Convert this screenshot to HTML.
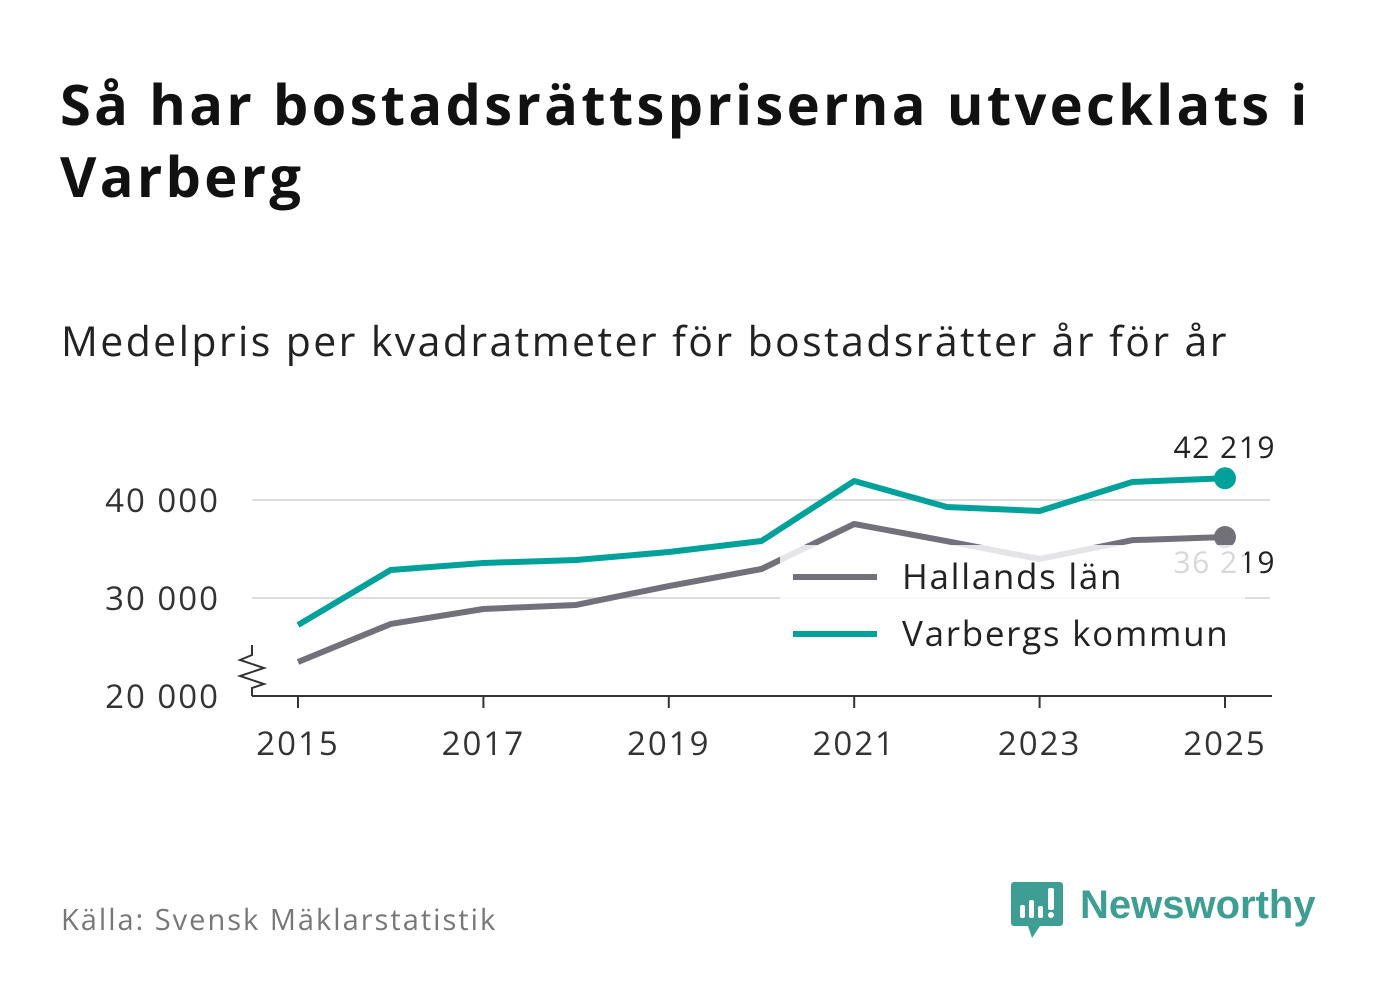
<!DOCTYPE html>
<html><head><meta charset="utf-8"><style>
body{margin:0;width:1382px;height:999px;background:#fff;font-family:"Open Sans","DejaVu Sans","Liberation Sans",sans-serif;position:relative;overflow:hidden}
#title{position:absolute;left:60px;top:68px;font-size:56px;font-weight:bold;line-height:72px;color:#111;width:1320px;letter-spacing:3.3px}
#subtitle{position:absolute;left:61px;top:313px;font-size:41px;color:#222;letter-spacing:2.4px}
#source{position:absolute;left:61px;top:900px;font-size:29px;color:#77777a;letter-spacing:2px}
</style></head><body>
<div id="title">Så har bostadsrättspriserna utvecklats i Varberg</div>
<div id="subtitle">Medelpris per kvadratmeter för bostadsrätter år för år</div>
<div id="source">Källa: Svensk Mäklarstatistik</div>
<svg id="logo" style="position:absolute;left:1000px;top:870px" width="330" height="80">
<path d="M14 12 h46 a3 3 0 0 1 3 3 v38 a3 3 0 0 1 -3 3 h-20 l-8 12 l-4 -12 h-14 a3 3 0 0 1 -3 -3 v-38 a3 3 0 0 1 3 -3z" fill="#3e9e94"/>
<rect x="20" y="35" width="5" height="13" rx="2" fill="#fff"/><rect x="29" y="30" width="5" height="18" rx="2" fill="#fff"/><rect x="38" y="36" width="5" height="12" rx="2" fill="#fff"/><rect x="48" y="18" width="6" height="22" rx="2" fill="#fff"/><circle cx="51" cy="45" r="3" fill="#fff"/>
<text x="80" y="48" font-size="40" font-weight="bold" fill="#3e9e94" font-family="Liberation Sans, sans-serif">Newsworthy</text>
</svg>
<svg id="chart" style="position:absolute;left:0;top:0" width="1382" height="999"></svg>
<script>
const years=[2015,2016,2017,2018,2019,2020,2021,2022,2023,2024,2025];
const halland=[23470,27350,28880,29290,31220,32960,37550,35800,33980,35900,36219];
const varberg=[27240,32860,33570,33880,34690,35820,41940,39290,38880,41840,42219];
const yTicks=[20000,30000,40000];
const yTickLabels=["20 000","30 000","40 000"];
const xTicks=[2015,2017,2019,2021,2023,2025];
const NS="http://www.w3.org/2000/svg";
const svg=document.getElementById('chart');
const x=v=>298+(v-2015)*(1225-298)/10;
const y=v=>696-(v-20000)*0.0098;
function mk(t,a,p){const e=document.createElementNS(NS,t);for(const k in a)e.setAttribute(k,a[k]);(p||svg).appendChild(e);return e;}
yTicks.forEach((t,i)=>{
 if(i>0){const g=mk('line',{x1:252,x2:1270,y1:y(t),y2:y(t),stroke:'#ddd','stroke-width':2});
 
 }
 const l=mk('text',{x:220,y:y(t)+12,'text-anchor':'end','font-size':33,fill:'#333','letter-spacing':2});l.textContent=yTickLabels[i];
 
 
});
const ax=mk('line',{x1:252,x2:1272,y1:696,y2:696,stroke:'#333','stroke-width':2});


mk('polyline',{points:'252,645 252,655 240,660 264,668 240,676 264,684 252,688 252,696',fill:'none',stroke:'#333','stroke-width':2});
xTicks.forEach(t=>{
 mk('line',{x1:x(t),x2:x(t),y1:696,y2:708,stroke:'#333','stroke-width':2});
 const l=mk('text',{x:x(t),y:755,'text-anchor':'middle','font-size':33,fill:'#333','letter-spacing':2});l.textContent=t;
 
 
});
function series(vals,color,name){
 const p=mk('polyline',{points:vals.map((v,i)=>x(years[i])+','+y(v)).join(' '),fill:'none',stroke:color,'stroke-width':6,'stroke-linejoin':'round'});
 
 
 const n=vals.length-1;
 const c=mk('circle',{cx:x(years[n]),cy:y(vals[n]),r:11,fill:color});
 
 
}
series(halland,'#727179','hallands-lan');
series(varberg,'#00a19a','varbergs-kommun');
const lv=mk('text',{x:1276,y:458,'text-anchor':'end','font-size':30,fill:'#222','letter-spacing':1.5});lv.textContent='42 219';


const lh=mk('text',{x:1276,y:573,'text-anchor':'end','font-size':30,fill:'#222','letter-spacing':1.5});lh.textContent='36 219';


const lg=mk('g',{});


mk('rect',{x:780,y:545,width:465,height:118,fill:'#fff','fill-opacity':0.82},lg);
[['Hallands län','#727179',577],['Varbergs kommun','#00a19a',634]].forEach(([t,c,yy])=>{
 const e=mk('g',{},lg);
 
 
 mk('line',{x1:793,x2:877,y1:yy,y2:yy,stroke:c,'stroke-width':6},e);
 const tx=mk('text',{x:902,y:yy+12,'font-size':35,fill:'#222','letter-spacing':1.7},e);tx.textContent=t;
});
</script>
</body></html>
